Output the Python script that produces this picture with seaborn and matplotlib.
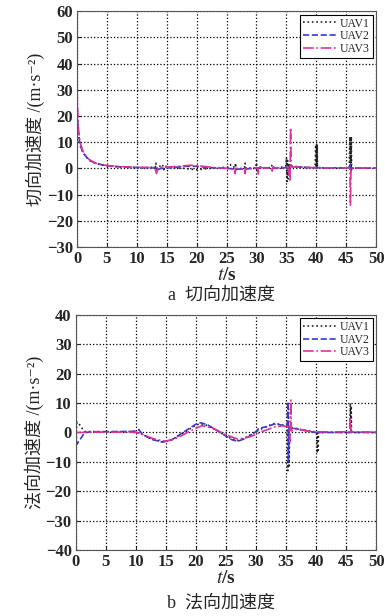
import numpy as np
import pandas as pd
import matplotlib
matplotlib.use("Agg")
import matplotlib.pyplot as plt
import seaborn as sns

# (t, value) samples
uav1_tan = [(0, 22), (0.2, 14), (0.5, 9), (1, 6), (1.5, 4.5), (2, 3.2), (3, 2), (4, 1.4),
            (5, 1.0), (7, 0.6), (10, 0.3), (12, 0.3), (13.1, 0.5), (13.2, 2), (13.3, -1),
            (13.5, 0.3), (14.3, 1.5), (14.5, -0.5), (14.7, 0.8), (16, 0.3), (18, 0),
            (19, -0.3), (20, -0.5), (21, -0.3), (22, 0), (24, 0.3), (25.5, 0.5), (25.7, 1.5),
            (26.4, 0.2), (26.5, 2), (26.6, -0.5), (28.0, 0.3), (28.1, 2), (28.2, 0),
            (29.9, 0.2), (30.0, 3), (30.1, -1), (30.3, 0.8), (31, 0.2), (32.5, 0.3),
            (32.6, 1.5), (33, 0), (34, 0.3), (34.9, 1), (35.0, 4), (35.1, -5), (35.2, 3),
            (35.3, -4), (35.4, 2), (35.6, 0.5), (36, 0.8), (37, 0.6), (38, 0.3), (39.8, 0.3),
            (39.9, 9), (40.0, 0.2), (40.05, 9), (40.1, 0.2), (40.15, 9), (40.2, 0.3),
            (42, 0.1), (44, 0.1), (45.5, 0.1), (45.6, 12), (45.7, 0.2), (45.75, 12),
            (45.8, 0.2), (45.85, 12), (45.9, 0.1), (48, 0.1), (50, 0.1)]
uav2_tan = [(0, 22), (0.2, 14), (0.5, 9), (1, 6), (1.5, 4.5), (2, 3.2), (3, 2), (4, 1.4),
            (5, 1.0), (7, 0.6), (10, 0.3), (13, 0.2), (13.3, -0.8), (14, 0), (16, 0.3),
            (18, 0.8), (20, 0.8), (22, 0.3), (25, 0), (27, -0.3), (30, 0), (32, 0.2),
            (34, 0), (35.2, 0.5), (35.4, -2), (35.6, 1), (37, 0.5), (40, 0.2), (45.6, 0.2),
            (45.7, 1.5), (45.8, -1), (46, 0.1), (50, 0.1)]
uav3_tan = [(0, 30), (0.2, 16), (0.5, 10), (1, 6.5), (1.5, 4.8), (2, 3.4), (3, 2.1), (4, 1.5),
            (5, 1.1), (7, 0.7), (10, 0.4), (13, 0.3), (13.3, -2), (13.5, 0.3), (15, 0.5),
            (17, 0.8), (19, 1.2), (21, 0.8), (23, 0.3), (25, 0), (26.3, -0.5), (26.4, -2),
            (26.5, 0), (28, -0.3), (28.1, -2), (28.2, 0), (30.2, 0.2), (30.3, -2.5),
            (30.4, 0.3), (32.5, 0), (32.6, -1.5), (32.7, 0.2), (35.3, 0.3), (35.6, -5),
            (35.7, 15.5), (35.8, 0.5), (37, 0.5), (40, 0.2), (45.6, 0.2), (45.7, -14),
            (45.8, 0.2), (50, 0.1)]

uav1_nor = [(0, 0), (0.2, 3.5), (0.5, 3), (1, 1.5), (1.5, 0.3), (3, 0.3), (6, 0.2), (9, 0.3),
            (10, 0.2), (11, -0.6), (12.5, -2.2), (14.5, -3.2), (16, -2.5), (18, 0),
            (20, 2.5), (20.8, 3), (22, 2.3), (24, 0), (26, -2.2), (27, -2.8), (28.5, -1.5),
            (30, 0.3), (31.5, 1.8), (33, 3), (34, 2.8), (35.2, 2), (35.3, -13),
            (35.4, 8), (35.5, -12), (35.6, 1.5), (36.5, 1.5), (37.5, 0.8), (39, 0.5),
            (40.1, 0), (40.2, -7), (40.3, 0), (40.35, -6), (40.4, 0), (42, 0), (45.6, 0),
            (45.7, 10), (45.8, 0), (45.85, 9), (45.9, 0), (50, 0)]
uav2_nor = [(0, 0), (0.2, -4), (0.5, -3), (1, -1.5), (1.5, 0), (3, 0.2), (6, 0.3), (9, 0.3),
            (10, 0.5), (10.5, 1), (11, -0.5), (12.5, -2.3), (14.5, -3.3), (16, -2.5),
            (18, 0.2), (20, 2.8), (20.8, 3.3), (22, 2.5), (24, 0), (26, -2.5),
            (27, -3), (28.5, -1.8), (30, 0.3), (30.5, 1.5), (31.5, 1.8), (33, 2.8),
            (34, 2.6), (35.2, 2), (35.3, 10.5), (35.4, -10), (35.5, 1.5), (36.5, 1.3),
            (37.5, 1), (39, 0.3), (40, 0), (45, 0), (50, 0)]
uav3_nor = [(0, 0), (1, 0), (3, 0.1), (6, 0.1), (9, 0.1), (10, 0), (11, -0.6), (13, -2.2),
            (15, -3), (17, -1.8), (19, 0.5), (21, 2.3), (23, 1.3), (25, -0.8),
            (27, -2.3), (29, -1.5), (31, 0.3), (33, 1.8), (34.5, 2.3), (35.5, 1.8),
            (35.7, -3), (35.8, 11), (35.9, 0.5), (37, 1.2), (38.5, 0.5), (40, 0.2),
            (45.6, 0.2), (45.7, 5), (45.8, 0.2), (50, 0.1)]

series = ["UAV1", "UAV2", "UAV3"]
colors = {"UAV1": "#222222", "UAV2": "#3a3ad0", "UAV3": "#e0309a"}
styles = {"UAV1": ":", "UAV2": "--", "UAV3": "-."}

sns.set_style("ticks")
plt.rcParams["font.family"] = ["Liberation Serif", "Noto Sans CJK SC", "DejaVu Serif"]
plt.rcParams["mathtext.fontset"] = "stix"
plt.rcParams["axes.unicode_minus"] = True

fig = plt.figure(figsize=(3.85, 6.16), dpi=100)
ax1 = fig.add_axes([0.200, 0.599, 0.777, 0.383])
ax2 = fig.add_axes([0.197, 0.107, 0.780, 0.382])

panels = [
    (ax1, [uav1_tan, uav2_tan, uav3_tan], (-30, 60), "切向加速度 /(m·s⁻²)", "a  切向加速度", 0.52),
    (ax2, [uav1_nor, uav2_nor, uav3_nor], (-40, 40), "法向加速度 /(m·s⁻²)", "b  法向加速度", 0.022),
]

for ax, data, ylim, ylab, cap, capy in panels:
    for name, pts in zip(series, data):
        df = pd.DataFrame(pts, columns=["t", "a"])
        sns.lineplot(data=df, x="t", y="a", ax=ax, color=colors[name],
                     linestyle=styles[name], linewidth=1.2, sort=False,
                     estimator=None, label=name)
    ax.set_xlim(0, 50)
    ax.set_ylim(*ylim)
    ax.set_xticks(np.arange(0, 51, 5))
    ax.set_yticks(np.arange(ylim[0], ylim[1] + 1, 10))
    ax.grid(True, color="black", linestyle=":", linewidth=0.9)
    ax.tick_params(direction="in", labelsize=12, length=3)
    ax.tick_params(axis="x", pad=3)
    ax.tick_params(axis="y", pad=3)
    for lab in ax.get_xticklabels() + ax.get_yticklabels():
        lab.set_fontweight("bold")
    for s in ax.spines.values():
        s.set_color("#555555")
        s.set_linewidth(0.8)
    ax.set_xlabel("$\\mathit{t}$/s", fontsize=14, fontweight="bold", labelpad=0)
    ax.set_ylabel(ylab, fontsize=13, labelpad=1)
    leg = ax.legend(loc="upper right", fontsize=8.5, handlelength=2.8, borderpad=0.25,
                    labelspacing=0.05, handletextpad=0.3, borderaxespad=0.3,
                    fancybox=False, framealpha=1)
    leg.get_frame().set_edgecolor("black")
    leg.get_frame().set_linewidth(0.8)
    fig.text(0.575, capy, cap, ha="center", va="center", fontsize=13)

fig.savefig("out.png", dpi=100)
